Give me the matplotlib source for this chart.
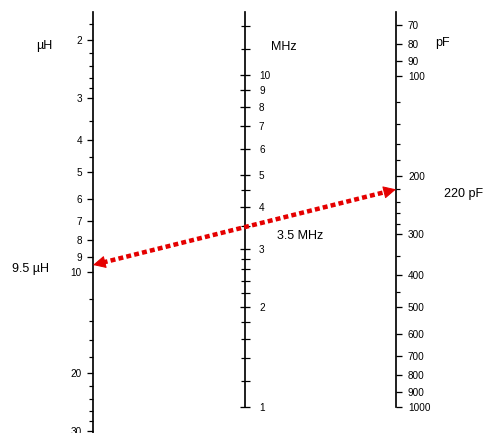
import numpy as np
import matplotlib.pyplot as plt
from matplotlib.patches import ConnectionPatch
from matplotlib.ticker import FixedLocator, FuncFormatter, NullFormatter

W, H, DPI = 485, 433, 72

# scale values
uh_major = [2, 3, 4, 5, 6, 7, 8, 9, 10, 20, 30]
uh_minor = [1.8, 2.2, 2.4, 2.6, 2.8, 3.5, 4.5, 12, 14, 16, 18, 22, 24, 26, 28]
mhz_major = [1, 2, 3, 4, 5, 6, 7, 8, 9, 10]
mhz_minor = [1.2, 1.4, 1.6, 1.8, 2.2, 2.4, 2.6, 2.8, 3.5, 4.5, 12, 14]
mhz_long = [1, 10]
pf_major = [70, 80, 90, 100, 200, 300, 400, 500, 600, 700, 800, 900, 1000]
pf_minor = [120, 140, 160, 180, 220, 240, 260, 280, 350, 450]
pf_long = [100, 1000]

# example reading
L_val, f_val, C_val = 9.5, 3.5, 220
L_text, f_text, C_text = '9.5 µH', '3.5 MHz', '220 pF'

RED = '#e50000'
narrow = ['Liberation Sans Narrow', 'Liberation Sans', 'DejaVu Sans']
sans = ['Liberation Sans', 'DejaVu Sans']

fig = plt.figure(figsize=(W / DPI, H / DPI), dpi=DPI)
fig.patch.set_facecolor('white')


def make_scale(x_px, side, ylim, span, major, minor):
    if side == 'left':
        rect = [x_px / W, 0, 1 / W, 1]
    else:
        rect = [(x_px - 1) / W, 0, 1 / W, 1]
    ax = fig.add_axes(rect)
    ax.set_yscale('log')
    ax.set_ylim(*ylim)
    ax.set_xlim(0, 1)
    ax.patch.set_visible(False)
    ax.xaxis.set_visible(False)
    for s in ax.spines.values():
        s.set_visible(False)
    sp = ax.spines[side]
    sp.set_visible(True)
    sp.set_linewidth(1.7)
    sp.set_bounds(*span)
    if side == 'right':
        ax.yaxis.tick_right()
    ax.yaxis.set_major_locator(FixedLocator(major))
    ax.yaxis.set_major_formatter(FuncFormatter(lambda v, p: f'{v:g}'))
    ax.yaxis.set_minor_locator(FixedLocator(minor))
    ax.yaxis.set_minor_formatter(NullFormatter())
    return ax


# inductance scale (left)
axL = make_scale(93, 'left', (30.36, 1.52), (1.65, 30.36), uh_major, uh_minor)
axL.tick_params(which='major', direction='out', length=6, width=1.3, pad=5,
                labelsize=10, labelfontfamily=narrow)
axL.tick_params(which='minor', direction='out', length=4, width=1.2)

# frequency scale (middle)
axF = make_scale(245, 'right', (0.835, 16.82), (1, 15.5), mhz_major, mhz_minor)
axF.tick_params(which='major', direction='inout', length=10, width=1.3, pad=9,
                labelsize=10, labelfontfamily=narrow)
axF.tick_params(which='minor', direction='inout', length=9, width=1.2)

# capacitance scale (right)
axC = make_scale(396, 'right', (1198, 58.95), (64, 1000), pf_major, pf_minor)
axC.tick_params(which='major', direction='out', length=6, width=1.3, pad=6,
                labelsize=10, labelfontfamily=narrow)
axC.tick_params(which='minor', direction='out', length=4, width=1.2)

for ax, longs, size in [(axF, mhz_long, 19), (axC, pf_long, 9)]:
    for t in ax.yaxis.get_major_ticks():
        if t.get_loc() in longs:
            t.tick2line.set_markersize(size)

# unit captions
fig.text(36 / W, 1 - 46 / H, 'µH', ha='left', va='center', fontsize=12.5, family=sans)
fig.text(271 / W, 1 - 47 / H, 'MHz', ha='left', va='center', fontsize=12.5, family=sans)
fig.text(435 / W, 1 - 43 / H, 'pF', ha='left', va='center', fontsize=12.5, family=sans)

# reading labels
axL.annotate(L_text, xy=(0, L_val), xytext=(-44, -4), textcoords='offset points',
             ha='right', va='center', fontsize=12.5, family=sans, annotation_clip=False)
axF.annotate(f_text, xy=(1, f_val), xytext=(32, -10), textcoords='offset points',
             ha='left', va='center', fontsize=12.5, family=sans, annotation_clip=False)
axC.annotate(C_text, xy=(1, C_val), xytext=(48, -5), textcoords='offset points',
             ha='left', va='center', fontsize=12.5, family=sans, annotation_clip=False)

# dotted double arrow L -> C
pA = axL.transData.transform((0, L_val))
pB = axC.transData.transform((1, C_val))
u = (pB - pA) / np.hypot(*(pB - pA))
head = 11

line = ConnectionPatch(xyA=(0, L_val), coordsA=axL.transData,
                       xyB=(1, C_val), coordsB=axC.transData,
                       arrowstyle='-', color=RED, lw=4.5,
                       linestyle=(0, (1.1, 0.7)), capstyle='butt',
                       shrinkA=head - 1, shrinkB=head - 1)
fig.add_artist(line)

for tip, base, ax, xy in [(pA, pA + u * head, axL, (0, L_val)),
                          (pB, pB - u * head, axC, (1, C_val))]:
    hd = ConnectionPatch(xyA=tuple(base), coordsA='figure pixels',
                         xyB=xy, coordsB=ax.transData,
                         arrowstyle='-|>,head_length=11,head_width=5.5',
                         mutation_scale=1, color=RED, lw=1,
                         shrinkA=0, shrinkB=0)
    fig.add_artist(hd)

fig.savefig('out.png', dpi=DPI, facecolor='white')
